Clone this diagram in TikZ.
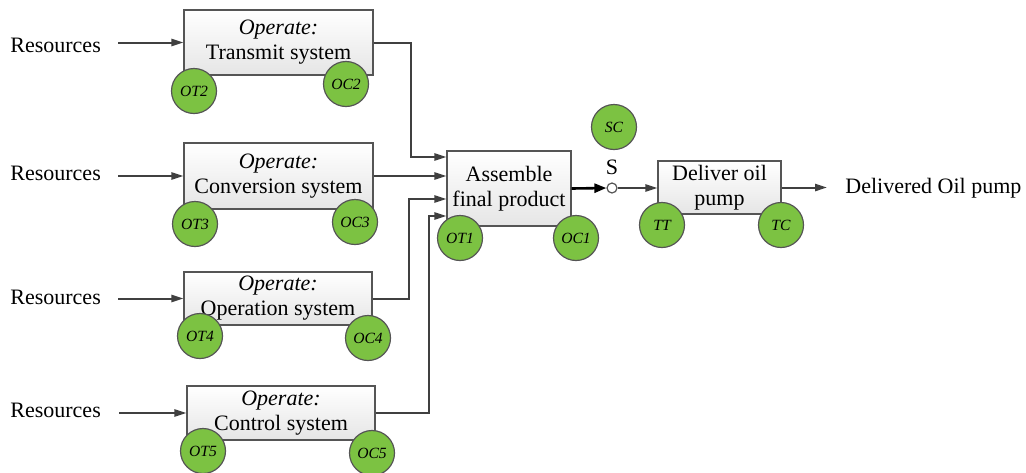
\documentclass[tikz,border=0pt]{standalone}
\usepackage{fontspec}
\setmainfont{Liberation Serif}
\usepackage{xcolor}
\usepackage{tikz}
\usetikzlibrary{arrows.meta}
\definecolor{ctrlgreen}{RGB}{124,194,66}
\definecolor{wire}{RGB}{64,64,64}
\definecolor{rim}{RGB}{85,85,85}
\tikzset{
  proc/.style={draw=rim, line width=0.6pt, top color=white, bottom color=black!10, inner sep=0pt, align=center, font=\fontsize{11}{12.5}\selectfont},
  ctrl/.style={circle, draw=rim, line width=0.6pt, fill=ctrlgreen, minimum size=22.5pt, inner sep=0pt, font=\fontsize{7.8}{9}\selectfont\itshape},
  flow/.style={draw=wire, line width=1pt, -{Triangle[length=6pt,width=3.6pt]}},
  res/.style={anchor=west, inner sep=0pt, font=\fontsize{11}{13}\selectfont},
}
\begin{document}
\begin{tikzpicture}[x=0.5pt,y=-0.5pt]
\useasboundingbox (0,0) rectangle (1026,472);
\node[res] (res1) at (10,45) {Resources};
\node[res] (res2) at (10,173) {Resources};
\node[res] (res3) at (10,297) {Resources};
\node[res] (res4) at (10,410) {Resources};
\node[proc, minimum width=94.5pt, minimum height=32.5pt] (tr) at (278.5,42.5) {\textit{Operate:}\\Transmit system};
\node[proc, minimum width=94.5pt, minimum height=33pt] (cv) at (278.5,176) {\textit{Operate:}\\Conversion system};
\node[proc, minimum width=94pt, minimum height=26.5pt] (op) at (278,298.5) {\textit{Operate:}\\Operation system};
\node[proc, minimum width=94pt, minimum height=27pt] (ct) at (281,413) {\textit{Operate:}\\Control system};
\node[proc, minimum width=62pt, minimum height=37.5pt] (asm) at (509,188.5) {Assemble\\final product};
\node[proc, minimum width=61.5pt, minimum height=26.5pt] (dl) at (719.5,187.5) {Deliver oil\\pump};
\node[circle, draw=rim, line width=0.6pt, fill=white, minimum size=5pt, inner sep=0pt,
  label={[inner sep=0pt, label distance=3.5pt, font=\fontsize{11}{13}\selectfont]above:S}] (sw) at (612,188) {};
\node[res] (out) at (845,188) {Delivered Oil pump};
\draw[flow] ([xshift=8.5pt]res1.east |- tr.west) -- (tr.west);
\draw[flow] ([xshift=8.5pt]res2.east |- cv.west) -- (cv.west);
\draw[flow] ([xshift=8.5pt]res3.east |- op.west) -- (op.west);
\draw[flow] ([xshift=9pt]res4.east |- ct.west) -- (ct.west);
\draw[flow] (tr.east) -- ++(37,0) |- ([yshift=15.75pt]asm.west);
\draw[flow] (cv.east) -- (cv.east -| asm.west);
\draw[flow] (op.east) -- ++(36,0) |- ([yshift=-5.25pt]asm.west);
\draw[flow] (ct.east) -- ++(53,0) |- ([yshift=-13.75pt]asm.west);
\draw[black, line width=1.3pt, -{Triangle[length=6pt,width=4.5pt]}] (asm.east) -- (sw.west);
\draw[flow] (sw.east) -- (sw.east -| dl.west);
\draw[flow, shorten >=9pt] (dl.east) -- (dl.east -| out.west);
\node[ctrl] (ot2) at (194,91) {OT2};
\node[ctrl] (oc2) at (346,84) {OC2};
\node[ctrl] (ot3) at (195,224) {OT3};
\node[ctrl] (oc3) at (355,222) {OC3};
\node[ctrl] (ot4) at (200,336) {OT4};
\node[ctrl] (oc4) at (368,338) {OC4};
\node[ctrl] (ot5) at (203,451) {OT5};
\node[ctrl] (oc5) at (372,453) {OC5};
\node[ctrl] (ot1) at (460,238) {OT1};
\node[ctrl] (oc1) at (576,238) {OC1};
\node[ctrl] (sc) at (614,127) {SC};
\node[ctrl] (tt) at (662,225) {TT};
\node[ctrl] (tc) at (781,225) {TC};
\end{tikzpicture}
\end{document}
